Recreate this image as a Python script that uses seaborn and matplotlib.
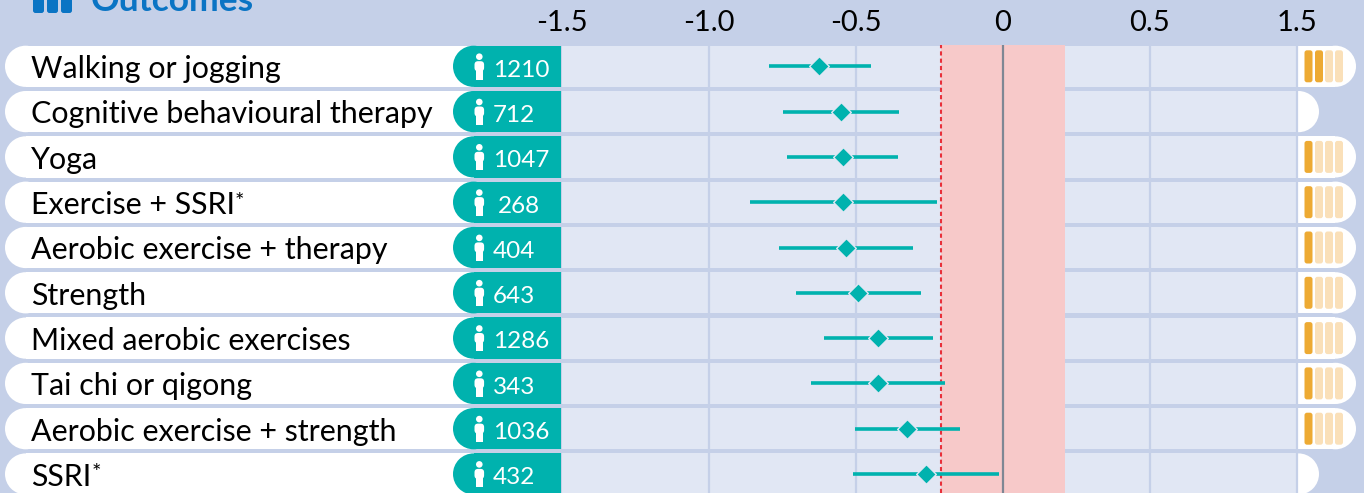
import matplotlib
matplotlib.use('Agg')
import matplotlib.pyplot as plt
from matplotlib.patches import FancyBboxPatch, Rectangle, Circle
import numpy as np
import pandas as pd
import seaborn as sns

outcomes = ['Walking or jogging', 'Cognitive behavioural therapy', 'Yoga', 'Exercise + SSRI',
            'Aerobic exercise + therapy', 'Strength', 'Mixed aerobic exercises', 'Tai chi or qigong',
            'Aerobic exercise + strength', 'SSRI']
participants = [1210, 712, 1047, 268, 404, 643, 1286, 343, 1036, 432]
effect = [-0.626, -0.551, -0.544, -0.544, -0.534, -0.493, -0.425, -0.425, -0.327, -0.262]
ci_low = [-0.796, -0.748, -0.735, -0.861, -0.762, -0.704, -0.609, -0.653, -0.503, -0.510]
ci_high = [-0.449, -0.354, -0.357, -0.224, -0.306, -0.279, -0.238, -0.197, -0.146, -0.014]
certainty = [2, None, 1, 1, 1, 1, 1, 1, 1, None]
has_star = [False, False, False, True, False, False, False, False, False, True]
tick_pos = [-1.5, -1.0, -0.5, 0, 0.5, 1.0]
tick_labels = ['-1.5', '-1.0', '-0.5', '0', '0.5', '1.5']  # last one really reads 1.5 in the source
mcid = 0.21

BG = '#C5D0E8'
ROW = '#E1E7F4'
TEAL = '#00B2AE'
ORANGE = '#EDAA33'
PALE = '#FAE0B9'
W, H = 1364, 493
ROW_TOP, PITCH, ROW_H = 45.7, 45.3, 41.2

sns.set_style('white')
plt.rcParams['font.family'] = ['Lato', 'DejaVu Sans']

df = pd.DataFrame({'outcome': outcomes, 'effect': effect})

fig = plt.figure(figsize=(W / 100, H / 100), dpi=100, facecolor=BG)

# pixel layer for the pills and labels
bg = fig.add_axes([0, 0, 1, 1], zorder=0)
bg.set_xlim(0, W)
bg.set_ylim(H, 0)
bg.axis('off')


def pill_left(x0, x1, y, h, color):
    bg.add_patch(Circle((x0 + h / 2, y + h / 2), h / 2, fc=color, ec='none'))
    bg.add_patch(Rectangle((x0 + h / 2, y), x1 - x0 - h / 2, h, fc=color, ec='none'))


def pill_right(x0, x1, y, h, color):
    bg.add_patch(Circle((x1 - h / 2, y + h / 2), h / 2, fc=color, ec='none'))
    bg.add_patch(Rectangle((x0, y), max(x1 - x0 - h / 2, 0), h, fc=color, ec='none'))


def person(x, y):
    bg.add_patch(Circle((x, y + 11), 3.3, fc='white', ec='none'))
    bg.add_patch(FancyBboxPatch((x - 4.8, y + 15.5), 9.6, 10, boxstyle='round,pad=0,rounding_size=3.5', fc='white', ec='none'))
    bg.add_patch(Rectangle((x - 3.3, y + 21), 6.6, 13, fc='white', ec='none'))


for i, name in enumerate(outcomes):
    top = ROW_TOP + i * PITCH
    pill_left(5, 480, top, ROW_H, 'white')
    pill_left(453, 561, top, ROW_H, TEAL)
    person(479.3, top)
    t = bg.text(31, top + 32.5, name, fontsize=21.9, color='black', va='baseline')
    if has_star[i]:
        bg.annotate('*', xy=(1, 0.98), xycoords=t, fontsize=16, va='top', ha='left', color='black')
    num_x = 498 if participants[i] == 268 else 493
    bg.text(num_x, top + 31, str(participants[i]), fontsize=17.5, color='white', va='baseline')
    # right hand certainty pill
    if certainty[i] is None:
        pill_right(1298, 1319, top, ROW_H, 'white')
    else:
        pill_right(1298, 1356, top, ROW_H, 'white')
        for k, bx in enumerate([1304.5, 1315, 1325, 1335]):
            c = ORANGE if k < certainty[i] else PALE
            bg.add_patch(FancyBboxPatch((bx, top + 4.6), 8, 32, boxstyle='round,pad=0,rounding_size=2.5', fc=c, ec='none'))

# clipped header at the very top
bg.text(91, 11, 'Outcomes', fontsize=25.5, fontweight='bold', color='#0A74C4', va='baseline')
for bx in [33, 47, 61]:
    bg.add_patch(FancyBboxPatch((bx, -20), 11, 33, boxstyle='round,pad=0,rounding_size=2.5', fc='#0A74C4', ec='none'))

# forest plot on real scales
ax = fig.add_axes([562 / W, 0, (1298 - 562) / W, (H - 45) / H], zorder=1)
ax.set_facecolor('none')
for i in range(len(outcomes)):
    ax.axhspan(i - ROW_H / PITCH / 2, i + ROW_H / PITCH / 2, color=ROW, lw=0, zorder=1)
for v in tick_pos[1:3] + tick_pos[4:]:
    ax.axvline(v, color=BG, lw=1.6, zorder=1.5, clip_on=False)
ax.axvspan(-mcid, mcid, color='#F7C9C9', lw=0, zorder=2)
ax.axvline(0, color='#7E8794', lw=1.6, zorder=3)
ax.axvline(-mcid, color='#E8303A', lw=1.5, ls=(0, (2, 1.5)), zorder=3)
ax.hlines(np.arange(len(outcomes)), ci_low, ci_high, color=TEAL, lw=2.6, zorder=4, capstyle='butt')
sns.scatterplot(data=df, x='effect', y='outcome', marker='D', s=100, color=TEAL,
                edgecolor=ROW, linewidth=1.0, ax=ax, zorder=5, legend=False)
ax.set_xlim(-1.5, 1.0 + 1 / 294)
ax.set_ylim((H - ROW_TOP - ROW_H / 2) / PITCH, -(ROW_TOP + ROW_H / 2 - 45) / PITCH)
ax.set_xlabel('')
ax.set_ylabel('')
ax.set_yticks([])
ax.xaxis.tick_top()
ax.set_xticks(tick_pos)
ax.set_xticklabels(tick_labels, fontsize=21, color='black')
ax.tick_params(axis='x', length=0, pad=6.5)
sns.despine(ax=ax, left=True, bottom=True, top=True, right=True)

fig.savefig('out.png', dpi=100, facecolor=BG)
